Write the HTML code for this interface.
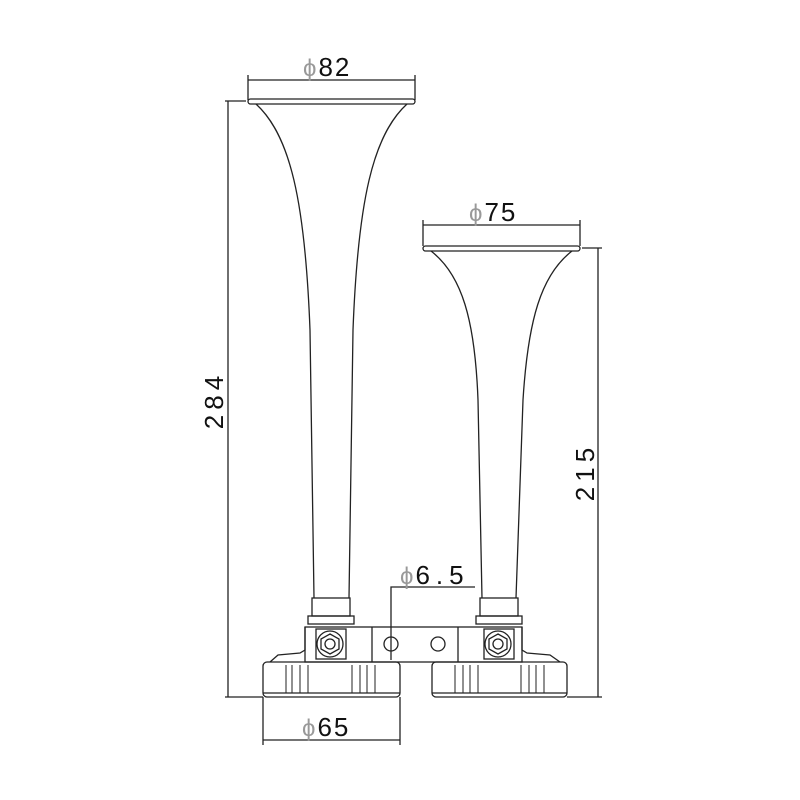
<!DOCTYPE html>
<html><head><meta charset="utf-8"><style>
html,body{margin:0;padding:0;background:#fff;width:800px;height:800px;overflow:hidden}
text{font-family:"Liberation Sans",sans-serif;fill:#111}
</style></head><body>
<svg width="800" height="800" viewBox="0 0 800 800" xmlns="http://www.w3.org/2000/svg">
<g fill="none" stroke="#222" stroke-width="1.3">
<line x1="248" y1="75" x2="248" y2="100"/><line x1="415" y1="75" x2="415" y2="100"/>
<line x1="248" y1="80" x2="415" y2="80"/>
<line x1="423" y1="220" x2="423" y2="246"/><line x1="580" y1="220" x2="580" y2="246"/>
<line x1="423" y1="225" x2="580" y2="225"/>
<line x1="225" y1="101" x2="246" y2="101"/><line x1="228" y1="101" x2="228" y2="697"/><line x1="225" y1="697" x2="263" y2="697"/>
<line x1="582" y1="248" x2="602" y2="248"/><line x1="598" y1="248" x2="598" y2="697"/><line x1="567" y1="697" x2="602" y2="697"/>
<line x1="263" y1="697" x2="263" y2="745"/><line x1="400" y1="697" x2="400" y2="745"/>
<line x1="263" y1="740" x2="400" y2="740"/>
<polyline points="391,660 391,587 475,587"/>
<rect x="248" y="99" width="167" height="5" rx="2.5"/>
<path d="M256,104 C290,135 305,200 310,330 L314,598"/>
<path d="M407,104 C373,135 358,200 353,330 L349,598"/>
<rect x="423" y="246" width="157" height="5" rx="2.5"/>
<path d="M431,251 C462,275 475,320 478,400 L482,598"/>
<path d="M572,251 C541,275 528,320 523,400 L516,598"/>
<rect x="312" y="598" width="38" height="18"/><rect x="308" y="616" width="46" height="8"/>
<rect x="480" y="598" width="38" height="18"/><rect x="476" y="616" width="46" height="8"/>
<rect x="305" y="627" width="217" height="35"/>
<line x1="372" y1="627" x2="372" y2="662"/><line x1="458" y1="627" x2="458" y2="662"/>
<rect x="316" y="629" width="30" height="30"/><rect x="484" y="629" width="30" height="30"/>
<circle cx="330" cy="644" r="13"/><polygon points="330,634 339,639 339,649 330,654 321,649 321,639"/><circle cx="330" cy="644" r="5"/>
<circle cx="498" cy="644" r="13"/><polygon points="498,634 507,639 507,649 498,654 489,649 489,639"/><circle cx="498" cy="644" r="5"/>
<circle cx="391" cy="644" r="7"/><circle cx="438" cy="644" r="7"/>
<path d="M305,627 L305,650 L300,653 L278,655 L270,662"/>
<path d="M522,627 L522,650 L527,653 L550,655 L560,662"/>
<rect x="263" y="662" width="137" height="35" rx="4"/>
<rect x="432" y="662" width="135" height="35" rx="4"/>
<line x1="263" y1="693" x2="400" y2="693"/><line x1="432" y1="693" x2="567" y2="693"/>
<g stroke-width="1">
<line x1="286" y1="665" x2="286" y2="693"/><line x1="292" y1="665" x2="292" y2="693"/><line x1="300" y1="665" x2="300" y2="693"/><line x1="308" y1="665" x2="308" y2="693"/>
<line x1="352" y1="665" x2="352" y2="693"/><line x1="360" y1="665" x2="360" y2="693"/><line x1="367" y1="665" x2="367" y2="693"/><line x1="375" y1="665" x2="375" y2="693"/>
<line x1="455" y1="665" x2="455" y2="693"/><line x1="463" y1="665" x2="463" y2="693"/><line x1="470" y1="665" x2="470" y2="693"/><line x1="478" y1="665" x2="478" y2="693"/>
<line x1="521" y1="665" x2="521" y2="693"/><line x1="529" y1="665" x2="529" y2="693"/><line x1="536" y1="665" x2="536" y2="693"/><line x1="544" y1="665" x2="544" y2="693"/>
</g>
</g>
<text x="303" y="76" font-size="26" letter-spacing="2"><tspan fill="#999" font-size="24">ϕ</tspan>82</text>
<text x="469" y="221" font-size="26" letter-spacing="2"><tspan fill="#999" font-size="24">ϕ</tspan>75</text>
<text x="302" y="736" font-size="26" letter-spacing="2"><tspan fill="#999" font-size="24">ϕ</tspan>65</text>
<text x="400" y="584" font-size="26" letter-spacing="6"><tspan fill="#999" font-size="24" letter-spacing="2">ϕ</tspan>6.5</text>
<text transform="translate(223,400) rotate(-90)" text-anchor="middle" font-size="26" letter-spacing="5">284</text>
<text transform="translate(594,472) rotate(-90)" text-anchor="middle" font-size="26" letter-spacing="5">215</text>
</svg>
</body></html>
